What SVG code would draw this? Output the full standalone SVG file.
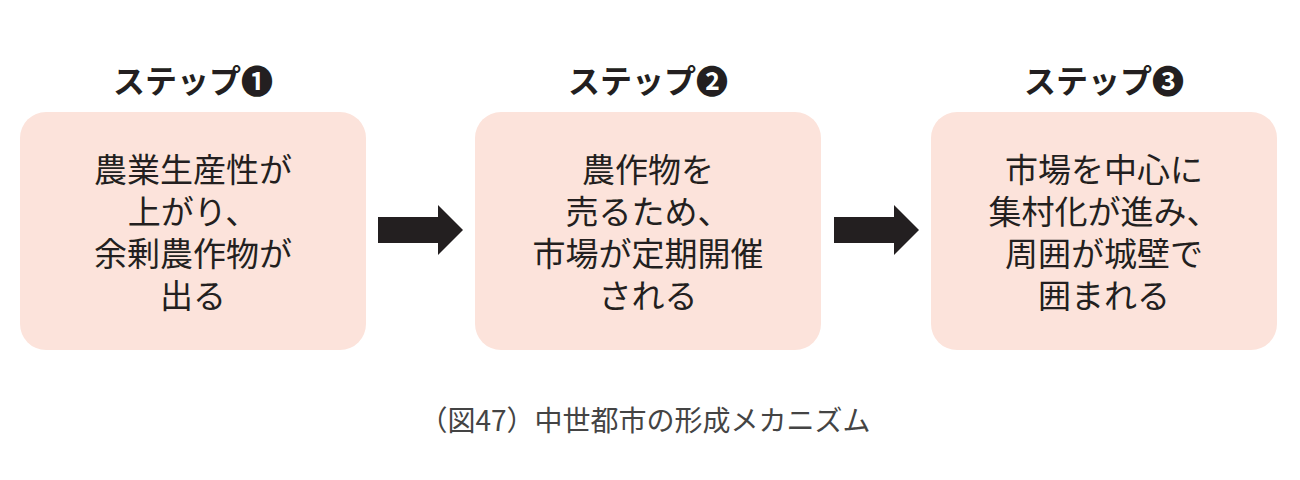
<svg xmlns="http://www.w3.org/2000/svg" width="1300" height="480" viewBox="0 0 1300 480">
<style>
text{font-family:"Noto Sans CJK JP","Noto Sans",sans-serif;text-anchor:middle;fill:#231f20}
.t{font-size:32px;font-weight:bold}
.b{font-size:33px}
.c{font-size:28px;fill:#444}
.box{fill:#fce3db}
.ar{fill:#231f20}
</style>
<rect width="1300" height="480" fill="#fff"/>
<g id="step1">
<text class="t" x="193" y="93">ステップ❶</text>
<rect class="box" x="20" y="112" width="346" height="238" rx="26"/>
<text class="b" x="193" y="182">農業生産性が</text>
<text class="b" x="193" y="224">上がり、</text>
<text class="b" x="193" y="266">余剰農作物が</text>
<text class="b" x="193" y="308">出る</text>
</g>
<g id="step2">
<text class="t" x="648" y="93">ステップ❷</text>
<rect class="box" x="475" y="112" width="346" height="238" rx="26"/>
<text class="b" x="648" y="182">農作物を</text>
<text class="b" x="648" y="224">売るため、</text>
<text class="b" x="648" y="266">市場が定期開催</text>
<text class="b" x="648" y="308">される</text>
</g>
<g id="step3">
<text class="t" x="1104" y="93">ステップ❸</text>
<rect class="box" x="931" y="112" width="346" height="238" rx="26"/>
<text class="b" x="1104" y="182">市場を中心に</text>
<text class="b" x="1104" y="224">集村化が進み、</text>
<text class="b" x="1104" y="266">周囲が城壁で</text>
<text class="b" x="1104" y="308">囲まれる</text>
</g>
<g id="connectors">
<polygon class="ar" points="378,217 438,217 438,205 463,230 438,255 438,243 378,243"/>
<polygon class="ar" points="834,217 894,217 894,205 919,230 894,255 894,243 834,243"/>
</g>
<text class="c" x="645" y="431">（図47）中世都市の形成メカニズム</text>
</svg>
